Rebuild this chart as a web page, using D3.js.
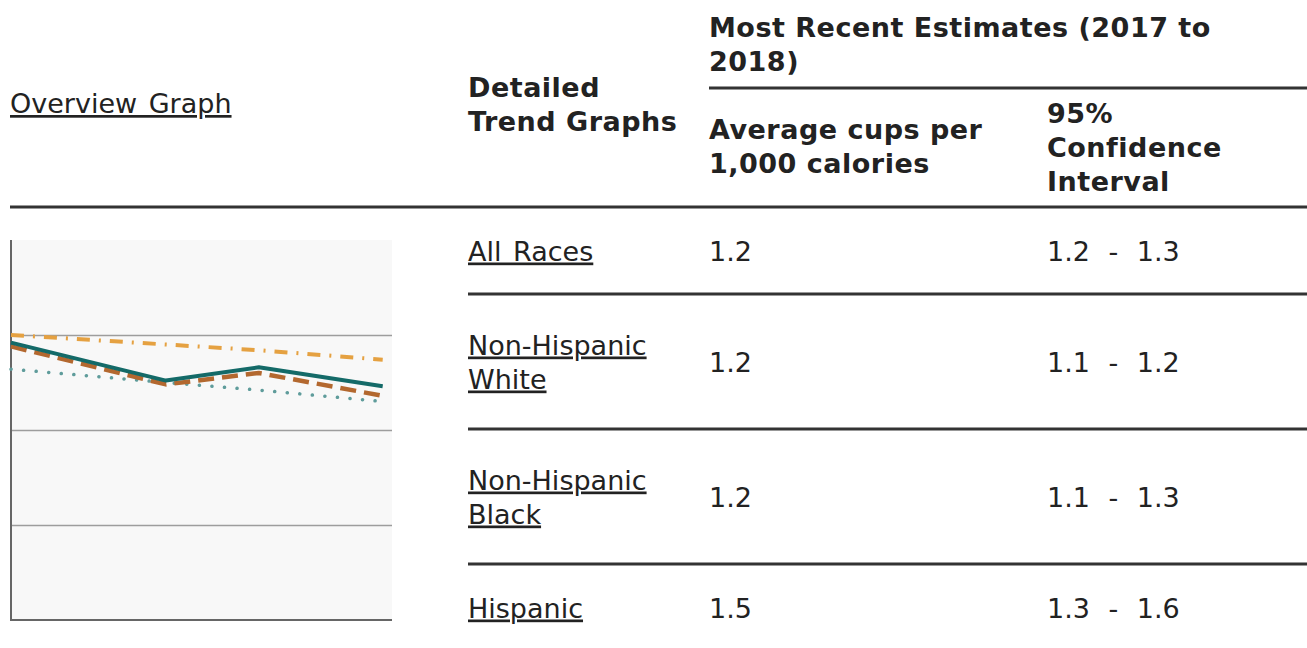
<!DOCTYPE html>
<html>
<head>
<meta charset="utf-8">
<script src="https://cdn.jsdelivr.net/npm/d3@7"></script>
<style>
  body { margin: 0; background: #fff; }
  svg { display: block; font-family: "DejaVu Sans", Verdana, sans-serif; }
</style>
</head>
<body>
<svg id="chart"></svg>
<script>
// overview graph data
const years = [2005, 2010, 2013, 2017];
const allRaces = [1.46, 1.26, 1.33, 1.23];
const nhWhite = [1.44, 1.24, 1.30, 1.18];
const nhBlack = [1.32, 1.25, 1.21, 1.15];
const hispanic = [1.50, 1.45, 1.42, 1.37];
const yTicks = [0.5, 1.0, 1.5];

// table data
const groups = [["All Races"], ["Non-Hispanic", "White"], ["Non-Hispanic", "Black"], ["Hispanic"]];
const estimates = ["1.2", "1.2", "1.2", "1.5"];
const intervals = ["1.2 - 1.3", "1.1 - 1.2", "1.1 - 1.3", "1.3 - 1.6"];

const W = 1307, H = 648;
const svg = d3.select("#chart").attr("width", W).attr("height", H);
const ink = "#222";
const lineH = 34;
const col2 = 468, col3 = 709, col4 = 1047;

// multi-line text helper, baseline of first line given
function lines(x, y, arr, bold, opts = {}) {
    const t = svg.append("text")
        .attr("x", x).attr("y", y)
        .attr("font-size", 27)
        .attr("font-weight", bold ? "bold" : "normal")
        .attr("fill", ink);
    if (bold) t.attr("letter-spacing", 0.5);
    if (opts.underline) t.attr("text-decoration", "underline");
    if (opts.wordSpacing) t.attr("word-spacing", opts.wordSpacing);
    arr.forEach((s, i) => {
        t.append("tspan").attr("x", x).attr("y", y + i * lineH).text(s);
    });
    return t;
}

// ---- header ----
lines(10, 113, ["Overview Graph"], false, {underline: true, wordSpacing: 3});
lines(col2, 97, ["Detailed", "Trend Graphs"], true);
lines(col3, 37, ["Most Recent Estimates (2017 to", "2018)"], true);
lines(col3, 139, ["Average cups per", "1,000 calories"], true);
lines(col4, 123, ["95%", "Confidence", "Interval"], true);

svg.append("line").attr("x1", col3).attr("x2", W).attr("y1", 88).attr("y2", 88)
    .attr("stroke", "#333").attr("stroke-width", 3);
svg.append("line").attr("x1", 10).attr("x2", W).attr("y1", 207).attr("y2", 207)
    .attr("stroke", "#333").attr("stroke-width", 3);

// ---- table body ----
const rowTop = [207, 294, 429, 564];
const rowBottom = [294, 429, 564, 651];
groups.forEach((g, i) => {
    const mid = (rowTop[i] + rowBottom[i]) / 2 + 10;
    const first = mid - (g.length - 1) * lineH / 2;
    lines(col2, first, g, false, {underline: true, wordSpacing: 3});
    lines(col3, mid, [estimates[i]], false);
    lines(col4, mid, [intervals[i]], false, {wordSpacing: 10});
    if (i < groups.length - 1) {
        svg.append("line").attr("x1", col2).attr("x2", W)
            .attr("y1", rowBottom[i]).attr("y2", rowBottom[i])
            .attr("stroke", "#333").attr("stroke-width", 3);
    }
});

// ---- overview thumbnail ----
const box = {x0: 10, x1: 392, y0: 240, y1: 620};
const x = d3.scaleLinear().domain([2005, 2017.3]).range([box.x0 + 1, box.x1]);
const y = d3.scaleLinear().domain([0, 2]).range([box.y1, box.y0]);

svg.append("rect").attr("x", box.x0).attr("y", box.y0)
    .attr("width", box.x1 - box.x0).attr("height", box.y1 - box.y0)
    .attr("fill", "#f8f8f8");

const grid = svg.append("g")
    .attr("transform", `translate(${box.x0},0)`)
    .call(d3.axisLeft(y).tickValues(yTicks).tickSize(-(box.x1 - box.x0)).tickFormat(""));
grid.select(".domain").remove();
grid.selectAll(".tick line").attr("stroke", "#9d9d9d").attr("stroke-width", 1.5);

svg.append("line").attr("x1", box.x0 + 1).attr("x2", box.x0 + 1)
    .attr("y1", box.y0).attr("y2", box.y1)
    .attr("stroke", "#666").attr("stroke-width", 2);
svg.append("line").attr("x1", box.x0).attr("x2", box.x1)
    .attr("y1", box.y1).attr("y2", box.y1)
    .attr("stroke", "#666").attr("stroke-width", 2);

const series = [
    {values: nhBlack, color: "#5f9c9b", width: 3.5, dash: "0.1,12.5", cap: "round"},
    {values: hispanic, color: "#e5a141", width: 4, dash: "13,9,2,9", cap: "butt"},
    {values: nhWhite, color: "#b3682f", width: 4.5, dash: "16,8", cap: "butt"},
    {values: allRaces, color: "#146a68", width: 4, dash: null, cap: "butt"}
];

const line = d3.line()
    .x((d, i) => x(years[i]))
    .y(d => y(d));

svg.append("g").selectAll("path")
    .data(series)
    .enter().append("path")
    .attr("d", d => line(d.values))
    .attr("fill", "none")
    .attr("stroke", d => d.color)
    .attr("stroke-width", d => d.width)
    .attr("stroke-dasharray", d => d.dash)
    .attr("stroke-linecap", d => d.cap)
    .attr("stroke-linejoin", "round");
</script>
</body>
</html>
